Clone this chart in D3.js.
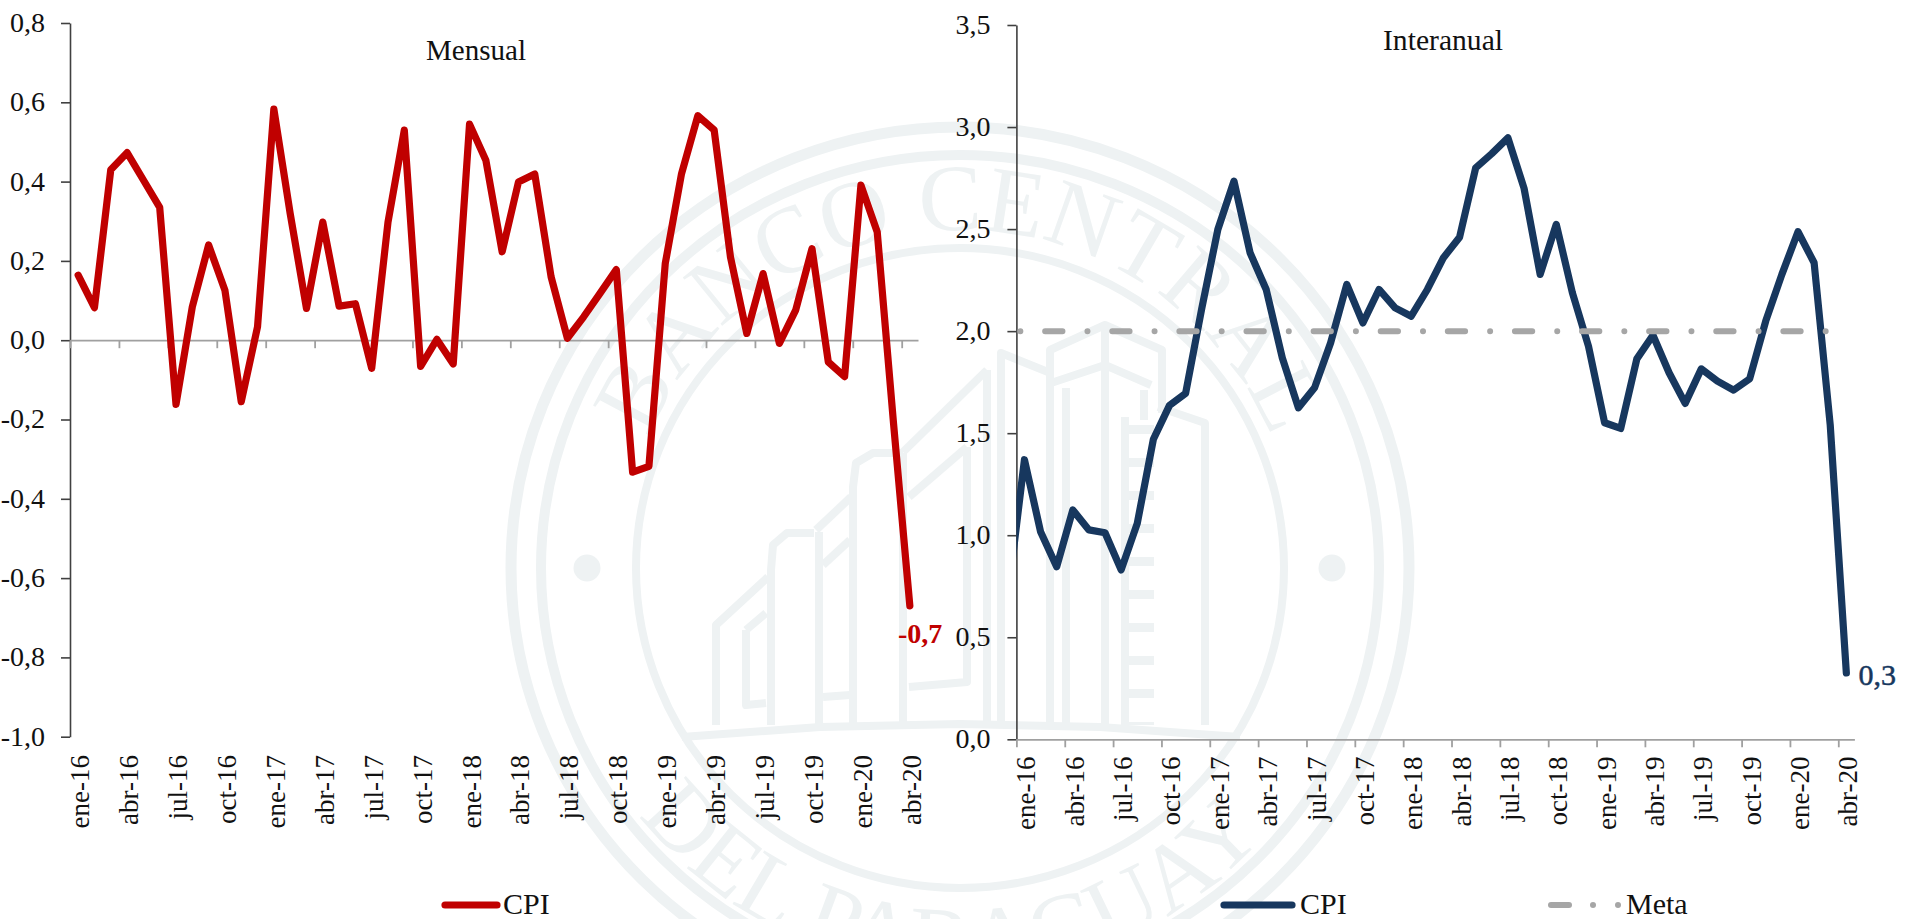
<!DOCTYPE html>
<html lang="es"><head><meta charset="utf-8">
<script src="https://cdn.jsdelivr.net/npm/d3@7"></script>
<style>html,body{margin:0;padding:0;background:#fff;overflow:hidden}svg{display:block}</style>
</head><body><svg id="c" width="1905" height="919"></svg>
<script>
const months = ["ene-16","feb-16","mar-16","abr-16","may-16","jun-16","jul-16","ago-16","sep-16","oct-16","nov-16","dic-16",
"ene-17","feb-17","mar-17","abr-17","may-17","jun-17","jul-17","ago-17","sep-17","oct-17","nov-17","dic-17",
"ene-18","feb-18","mar-18","abr-18","may-18","jun-18","jul-18","ago-18","sep-18","oct-18","nov-18","dic-18",
"ene-19","feb-19","mar-19","abr-19","may-19","jun-19","jul-19","ago-19","sep-19","oct-19","nov-19","dic-19",
"ene-20","feb-20","mar-20","abr-20"];
const tickLabels = ["ene-16","abr-16","jul-16","oct-16","ene-17","abr-17","jul-17","oct-17","ene-18","abr-18","jul-18","oct-18","ene-19","abr-19","jul-19","oct-19","ene-20","abr-20"];
const monthlyCPI = [0.164,0.082,0.430,0.473,0.404,0.335,-0.162,0.084,0.240,0.126,-0.155,0.034,
0.583,0.320,0.080,0.298,0.086,0.092,-0.071,0.298,0.530,-0.066,0.002,-0.060,
0.545,0.454,0.223,0.399,0.419,0.160,0.005,0.059,0.118,0.178,-0.333,-0.318,
0.193,0.420,0.566,0.530,0.210,0.017,0.168,-0.008,0.076,0.231,-0.055,-0.092,
0.391,0.273,-0.210,-0.670];
// the annual series enters the frame from the month before the first category
const annualBefore = 0.72;
const annualCPI = [1.37,1.017,0.846,1.124,1.026,1.012,0.830,1.058,1.470,1.636,1.695,2.110,
2.498,2.735,2.384,2.204,1.869,1.624,1.722,1.943,2.229,2.040,2.204,2.114,
2.073,2.204,2.360,2.460,2.800,2.870,2.947,2.700,2.278,2.523,2.188,1.926,
1.551,1.523,1.864,1.980,1.796,1.646,1.815,1.755,1.711,1.766,2.050,2.278,
2.487,2.335,1.540,0.325];
const metaValues = [2,2,2,2,2,2,2,2,2,2,2,2,2,2,2,2,2,2,2,2,2,2,2,2,2,2,2,2,2,2,2,2,2,2,2,2,2,2,2,2,2,2,2,2,2,2,2,2,2,2,2,2,2];
const monthlyTicks = [-1,-0.8,-0.6,-0.4,-0.2,0,0.2,0.4,0.6,0.8];
const annualTicks = [0,0.5,1,1.5,2,2.5,3,3.5];

const RED="#C00000", NAVY="#17375E", META="#A6A6A6", AXIS="#404040", ZERO="#A0A0A0", SEAL="#EEF2F3", FONT="'Liberation Serif',serif";
const svg = d3.select("#c");
const fmt = v => d3.format(".1f")(v).replace(".",",").replace("\u2212","-");

/* ---------- watermark seal ---------- */
const seal = svg.append("g").attr("fill","none").attr("stroke",SEAL);
const cx=960, cy=568;
[[449,441,11],[419,413,10],[324,320,8]].forEach(([rx,ry,w])=>
  seal.append("ellipse").attr("cx",cx).attr("cy",cy).attr("rx",rx).attr("ry",ry).attr("stroke-width",w));
[587,1332].forEach(x=>seal.append("ellipse").attr("cx",x).attr("cy",cy).attr("rx",13.5).attr("ry",13.5).attr("fill",SEAL).attr("stroke","none"));
const defs = svg.append("defs");
const arcPath=(r,a0,a1,ccw)=>{const p=d3.path();p.arc(cx,cy,r,a0,a1,ccw);return p.toString();};
defs.append("path").attr("id","arcTop").attr("d",arcPath(338,-Math.PI*0.995,-Math.PI*0.005,false));
defs.append("path").attr("id","arcBot").attr("d",arcPath(405,Math.PI*0.98,Math.PI*0.04,true));
[["arcTop","BANCO CENTRAL",95],["arcBot","DEL PARAGUAY",95]].forEach(([id,t,fs])=>
  svg.append("text").attr("font-family",FONT).attr("font-size",fs).attr("fill",SEAL)
    .append("textPath").attr("href","#"+id).attr("startOffset","50%").attr("text-anchor","middle").text(t));
const sealStrokes = [
 [[716,725],[716,625],[768,577]],
 [[771,725],[771,570],[773,545],[787,533],[814,533]],
 [[746,630],[766,613]],
 [[766,703],[746,705],[746,630]],
 [[819,725],[819,532]],
 [[816,530],[851,497]],[[823,565],[850,540]],
 [[823,697],[850,695]],
 [[853,725],[853,487],[856,463],[873,453],[903,453]],
 [[903,725],[903,453]],
 [[903,452],[987,370]],[[909,497],[967,447]],
 [[987,725],[987,370]],
 [[967,447],[967,682],[909,687]],
 [[1001,725],[1001,353],[1048,372]],
 [[1050,725],[1050,350],[1105,325],[1162,350],[1162,413]],
 [[1105,325],[1105,725]],
 [[1051,383],[1105,365],[1151,385]],
 [[1066,725],[1066,388]],
 [[1144,390],[1144,420]],
 [[1158,407],[1205,423],[1205,725]],
 [[1125,417],[1125,725]],
 [[682,737],[820,727],[960,724],[1100,727],[1240,737]]
];
const sealLine = d3.line();
seal.selectAll("path.b").data(sealStrokes).join("path").attr("class","b").attr("d",sealLine).attr("stroke-width",8).attr("stroke-linejoin","round");
seal.append("line").attr("x1",1140).attr("x2",1140).attr("y1",425).attr("y2",725).attr("stroke-width",28).attr("stroke-dasharray","9 24");

/* ---------- panels ---------- */
function panel(o){
  const x = d3.scaleLinear().domain([0,months.length]).range([o.x0,o.x1]);
  const y = d3.scaleLinear().domain(o.yDomain).range(o.yRange);
  const g = svg.append("g");
  const yAxis = g.append("g").attr("transform",`translate(${o.x0},0)`)
    .call(d3.axisLeft(y).tickValues(o.ticks).tickSize(9).tickSizeOuter(0).tickPadding(o.pad).tickFormat(fmt));
  yAxis.selectAll("path,line").attr("stroke",AXIS).attr("stroke-width",1.6);
  yAxis.selectAll("text").attr("font-family",FONT).attr("font-size",28).attr("fill","#111").attr("dy","0.30em");
  const xAxis = g.append("g").attr("transform",`translate(0,${y(0)})`)
    .call(d3.axisBottom(x).tickValues(tickLabels.map(l=>months.indexOf(l))).tickSize(8).tickSizeOuter(0).tickFormat(""));
  xAxis.selectAll("path,line").attr("stroke",ZERO).attr("stroke-width",1.8);
  g.selectAll("text.xl").data(tickLabels).join("text").attr("class","xl")
    .attr("transform",l=>`translate(${x(months.indexOf(l)+0.5)+11},${o.labelTop}) rotate(-90)`)
    .attr("text-anchor","end").attr("font-family",FONT).attr("font-size",27).attr("fill","#111").text(d=>d);
  g.append("text").attr("x",o.titleX).attr("y",o.titleY).attr("text-anchor","middle").attr("font-family",FONT)
    .attr("font-size",29).attr("textLength",o.titleW).attr("lengthAdjust","spacingAndGlyphs").attr("fill","#111").text(o.title);
  return {x,y,g};
}
const L = panel({x0:70,x1:918,yDomain:[-1,0.8],yRange:[736.7,23],ticks:monthlyTicks,pad:16,labelTop:755,title:"Mensual",titleX:476,titleY:60,titleW:100});
const R = panel({x0:1016.4,x1:1854.4,yDomain:[0,3.5],yRange:[739.3,25],ticks:annualTicks,pad:17,labelTop:756.5,title:"Interanual",titleX:1443,titleY:49.5,titleW:120});

defs.append("clipPath").attr("id","clipR").append("rect").attr("x",1016.4).attr("y",0).attr("width",880).attr("height",919);

const drawLine=(P,vals,first,color,w)=>P.g.append("path").datum(vals)
  .attr("d",d3.line().x((d,i)=>P.x(i+first+0.5)).y(d=>P.y(d)))
  .attr("fill","none").attr("stroke",color).attr("stroke-width",w).attr("stroke-linejoin","round").attr("stroke-linecap","round");

drawLine(L,monthlyCPI,0,RED,7.2);
drawLine(R,[annualBefore].concat(annualCPI),-1,NAVY,7.2).attr("clip-path","url(#clipR)");
drawLine(R,metaValues,-1,META,6).attr("stroke-dasharray","17.3 25 0.01 24.8").attr("stroke-dashoffset",30.3).attr("clip-path","url(#clipR)");

/* end labels */
svg.append("text").attr("x",898).attr("y",643).attr("font-family",FONT).attr("font-size",28).attr("font-weight",700).attr("fill",RED).text(fmt(-0.7));
svg.append("text").attr("x",1858.5).attr("y",685).attr("font-family",FONT).attr("font-size",30).attr("fill",NAVY).attr("stroke",NAVY).attr("stroke-width",0.5).text(fmt(0.3));

/* legend */
const leg = svg.append("g").attr("font-family",FONT).attr("font-size",30).attr("fill","#111");
const legLine=(x1,x2,c,w)=>svg.append("line").attr("x1",x1).attr("x2",x2).attr("y1",905).attr("y2",905).attr("stroke",c).attr("stroke-width",w).attr("stroke-linecap","round");
legLine(445,497,RED,7.2); leg.append("text").attr("x",503).attr("y",914).text("CPI");
legLine(1224,1292,NAVY,7.2); leg.append("text").attr("x",1300).attr("y",914).text("CPI");
legLine(1551,1569,META,6); legLine(1593,1593.01,META,6); legLine(1618,1618.01,META,6);
leg.append("text").attr("x",1626).attr("y",914).text("Meta");
</script></body></html>
